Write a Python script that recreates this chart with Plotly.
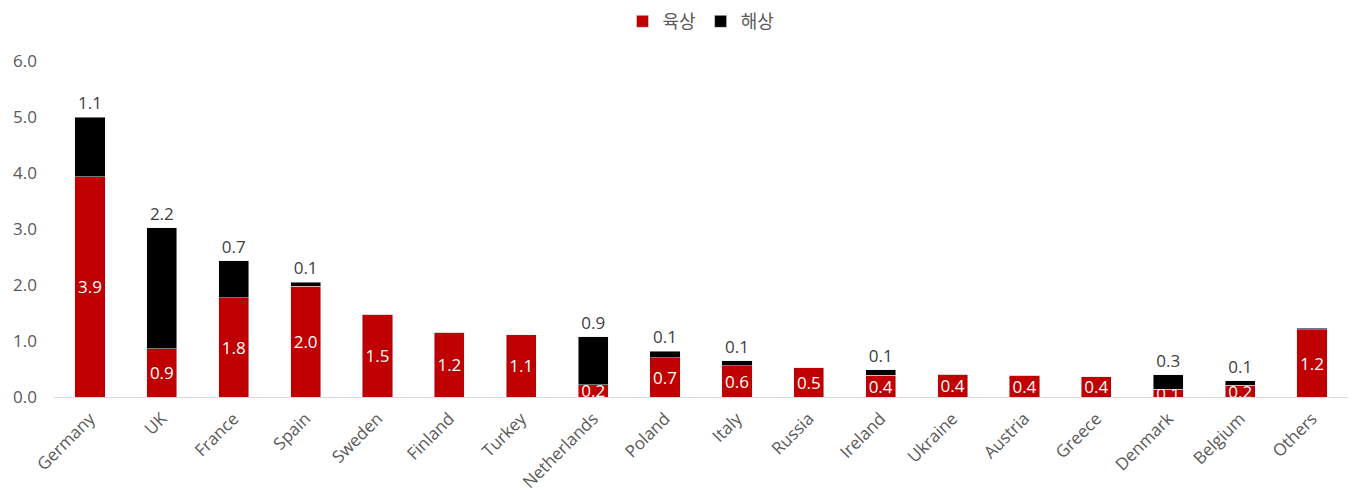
import plotly.graph_objects as go

countries = ["Germany", "UK", "France", "Spain", "Sweden", "Finland", "Turkey", "Netherlands",
             "Poland", "Italy", "Russia", "Ireland", "Ukraine", "Austria", "Greece", "Denmark",
             "Belgium", "Others"]
onshore = [3.93, 0.86, 1.77, 1.98, 1.48, 1.16, 1.11, 0.22, 0.70, 0.56, 0.52, 0.39, 0.41, 0.39,
           0.36, 0.14, 0.21, 1.20]
offshore = [1.07, 2.16, 0.66, 0.07, 0.0, 0.0, 0.0, 0.86, 0.12, 0.09, 0.0, 0.10, 0.0, 0.0,
            0.0, 0.26, 0.08, 0.03]
y_ticks = [0, 1, 2, 3, 4, 5, 6]

def fmt(vals):
    return [f"{v:.1f}" if v >= 0.05 else "" for v in vals]

fig = go.Figure()
fig.add_trace(go.Bar(
    x=countries, y=onshore, name="육상", marker_color="#C00000",
    text=fmt(onshore), textposition="inside", insidetextanchor="middle",
    constraintext="none", textangle=0,
    textfont=dict(color="white", size=17, family="Open Sans"),
))
fig.add_trace(go.Bar(
    x=countries, y=offshore, name="해상", marker_color="#000000",
    text=fmt(offshore), textposition="outside", constraintext="none", textangle=0,
    textfont=dict(color="#404040", size=17, family="Open Sans"),
    cliponaxis=False,
))
fig.update_layout(
    barmode="stack", bargap=0.58,
    width=1364, height=487,
    margin=dict(l=46, r=24, t=53, b=98, autoexpand=False),
    plot_bgcolor="white", paper_bgcolor="white",
    font=dict(family="Open Sans, Noto Sans CJK KR", color="#595959", size=15),
    legend=dict(orientation="h", x=0.5, xanchor="center", y=0.972, yanchor="middle",
                yref="container", traceorder="normal", itemwidth=30,
                font=dict(size=18, family="Noto Sans CJK KR", color="#595959")),
    showlegend=True,
)
fig.update_xaxes(showline=True, linecolor="#D9D9D9", linewidth=1, tickangle=-45,
                 ticks="", automargin=False, ticklabelstandoff=4,
                 tickfont=dict(size=17, color="#595959"))
fig.update_yaxes(range=[0, 6], tickvals=y_ticks, tickformat=".1f", showgrid=False,
                 zeroline=False, showline=False, ticks="", automargin=False,
                 ticklabelstandoff=16, tickfont=dict(size=17, color="#595959"))
fig.write_html("out.html")
